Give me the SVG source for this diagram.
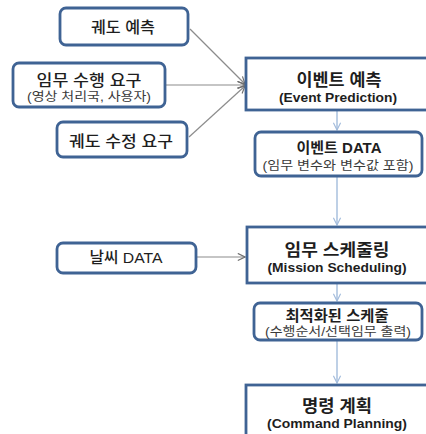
<svg xmlns="http://www.w3.org/2000/svg" width="426" height="434" viewBox="0 0 426 434">
<defs>
<style>
.box{fill:#fff;stroke:#3f6394;stroke-width:2.8}
.t{font-family:"Liberation Sans","Noto Sans CJK KR",sans-serif;fill:#1e1e1e;text-anchor:middle}
.h{font-size:16.5px;font-weight:bold}
.h2{font-size:14.5px;font-weight:bold}
.m{font-size:15.5px;font-weight:500}
.s{font-size:12.5px;fill:#3a3a3a}
.sb{font-size:12.5px;font-weight:bold}
.g{stroke:#8c8c8c;stroke-width:1.2;fill:none}
.b{stroke:#a3bcdc;stroke-width:1.4;fill:none}
</style>
<marker id="ag" viewBox="0 0 10 10" refX="9" refY="5" markerWidth="9" markerHeight="9" orient="auto" markerUnits="userSpaceOnUse">
<path d="M1,1 L9,5 L1,9" fill="none" stroke="#6e6e6e" stroke-width="1.3"/>
</marker>
<marker id="ab" viewBox="0 0 10 10" refX="9" refY="5" markerWidth="9" markerHeight="9" orient="auto" markerUnits="userSpaceOnUse">
<path d="M1,1 L9,5 L1,9" fill="none" stroke="#a3bcdc" stroke-width="1.3"/>
</marker>
</defs>
<rect width="426" height="434" fill="#fff"/>
<g id="connectors">
<line class="g" x1="190" y1="29" x2="245" y2="84" marker-end="url(#ag)"/>
<line class="g" x1="166" y1="85" x2="245" y2="85" marker-end="url(#ag)"/>
<line class="g" x1="189" y1="137" x2="245" y2="86" marker-end="url(#ag)"/>
<line class="g" x1="197" y1="257" x2="245" y2="257" marker-end="url(#ag)"/>
<line class="b" x1="337" y1="110" x2="337" y2="130" marker-end="url(#ab)"/>
<line class="b" x1="337" y1="176" x2="337" y2="225" marker-end="url(#ab)"/>
<line class="b" x1="337" y1="284" x2="337" y2="301" marker-end="url(#ab)"/>
<line class="b" x1="337" y1="341" x2="337" y2="383" marker-end="url(#ab)"/>
</g>
<g id="n-orbit-pred">
<rect class="box" x="60" y="8" width="128" height="37" rx="6"/>
<text class="t m" x="123" y="33" textLength="64" lengthAdjust="spacingAndGlyphs">궤도 예측</text>
</g>
<g id="n-mission-req">
<rect class="box" x="13" y="63" width="152" height="44" rx="6"/>
<text class="t m" x="89" y="85.5" textLength="105" lengthAdjust="spacingAndGlyphs">임무 수행 요구</text>
<text class="t s" x="89" y="101" textLength="124" lengthAdjust="spacingAndGlyphs">(영상 처리국, 사용자)</text>
</g>
<g id="n-orbit-fix">
<rect class="box" x="57" y="122" width="130" height="35" rx="6"/>
<text class="t m" x="121" y="147" textLength="104" lengthAdjust="spacingAndGlyphs">궤도 수정 요구</text>
</g>
<g id="n-event-pred">
<rect class="box" x="246" y="58" width="184" height="52"/>
<text class="t h" x="339" y="85.5" textLength="85" lengthAdjust="spacingAndGlyphs">이벤트 예측</text>
<text class="t sb" x="338" y="101.5" textLength="118" lengthAdjust="spacingAndGlyphs">(Event Prediction)</text>
</g>
<g id="n-event-data">
<rect class="box" x="255" y="132" width="167" height="44" rx="6"/>
<text class="t h2" x="339" y="153" textLength="85" lengthAdjust="spacingAndGlyphs">이벤트 DATA</text>
<text class="t s" x="338" y="170" textLength="151" lengthAdjust="spacingAndGlyphs">(임무 변수와 변수값 포함)</text>
</g>
<g id="n-weather">
<rect class="box" x="57" y="243" width="139" height="30" rx="6"/>
<text class="t m" x="126" y="263" textLength="73" lengthAdjust="spacingAndGlyphs">날씨 DATA</text>
</g>
<g id="n-mission-sched">
<rect class="box" x="247" y="227" width="183" height="56"/>
<text class="t h" x="337" y="256" textLength="105" lengthAdjust="spacingAndGlyphs">임무 스케줄링</text>
<text class="t sb" x="337" y="272" textLength="139" lengthAdjust="spacingAndGlyphs">(Mission Scheduling)</text>
</g>
<g id="n-opt-sched">
<rect class="box" x="254" y="303" width="168" height="37" rx="6"/>
<text class="t h2" x="337" y="321" textLength="103" lengthAdjust="spacingAndGlyphs">최적화된 스케줄</text>
<text class="t s" x="338" y="336" textLength="146" lengthAdjust="spacingAndGlyphs">(수행순서/선택임무 출력)</text>
</g>
<g id="n-command">
<rect class="box" x="246" y="385" width="184" height="60"/>
<text class="t h" x="337" y="411.5" textLength="70" lengthAdjust="spacingAndGlyphs">명령 계획</text>
<text class="t sb" x="337" y="427.5" textLength="140" lengthAdjust="spacingAndGlyphs">(Command Planning)</text>
</g>
</svg>
